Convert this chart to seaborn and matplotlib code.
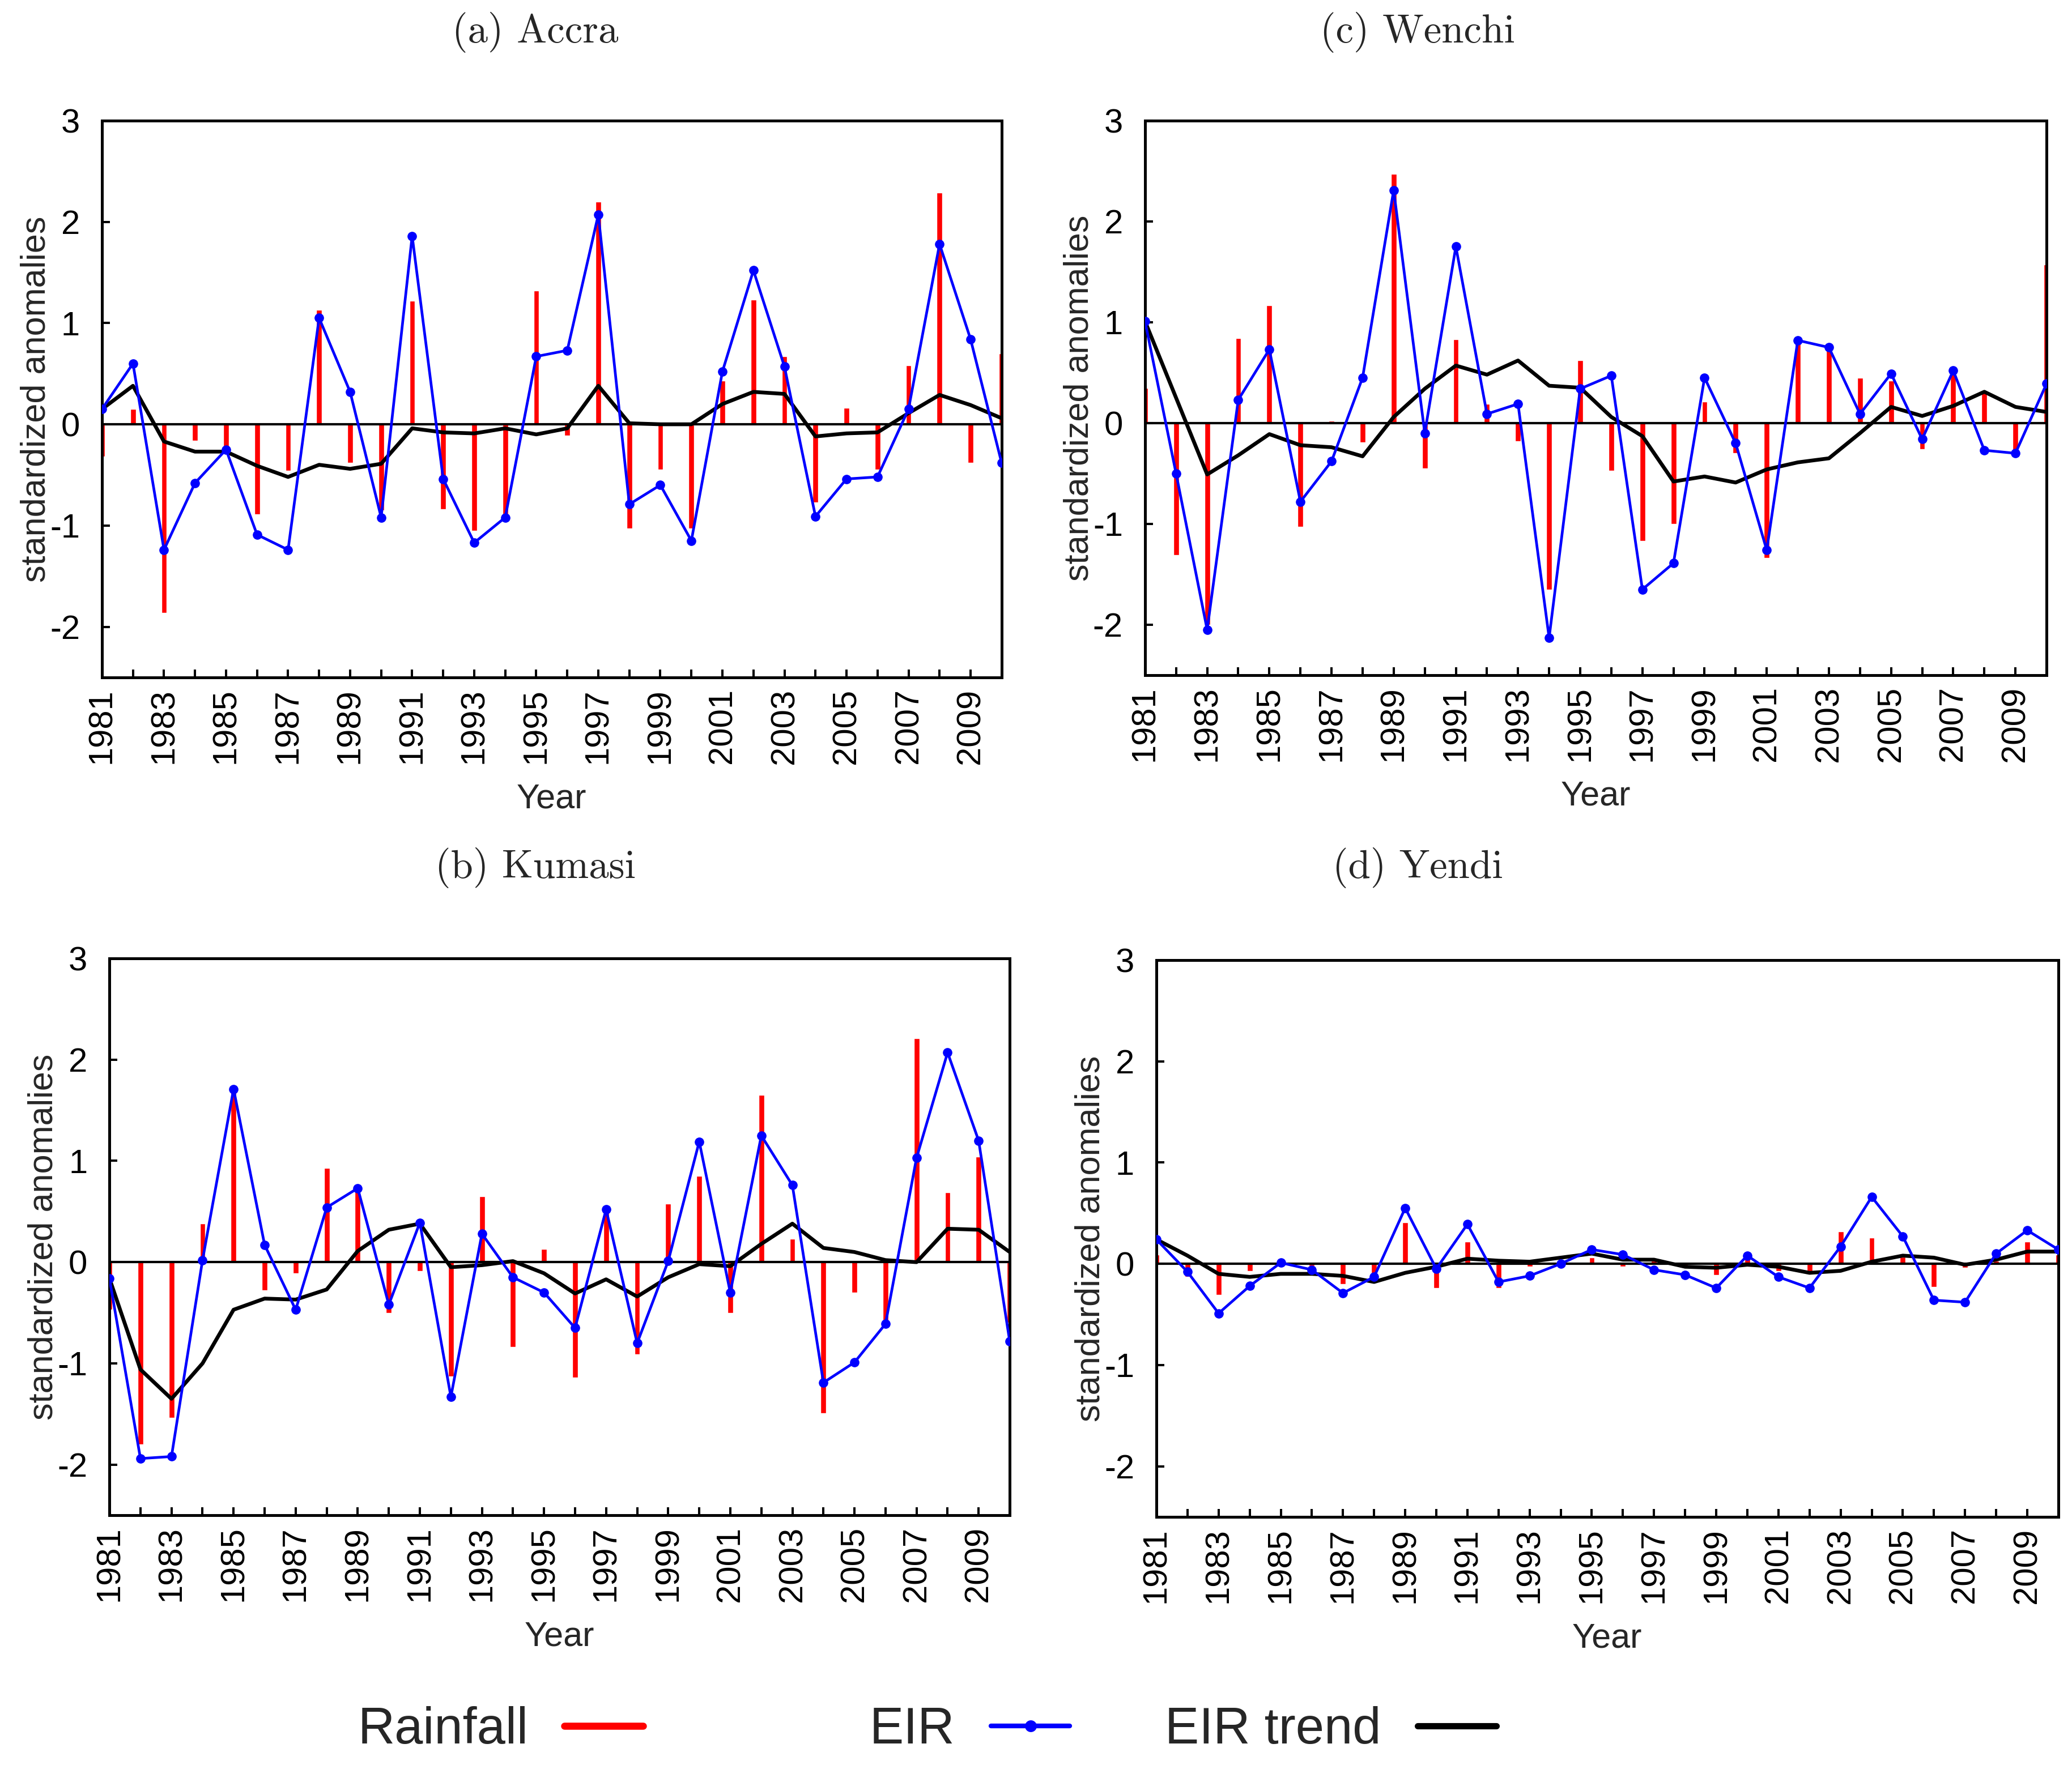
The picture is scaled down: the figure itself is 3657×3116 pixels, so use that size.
import numpy as np
import pandas as pd
import seaborn as sns
import matplotlib.pyplot as plt
from matplotlib.lines import Line2D

years = list(range(1981, 2011))

# (a) Accra
accra_rain = [-0.32, 0.15, -1.86, -0.16, -0.25, -0.89, -0.46, 1.13, -0.38, -0.85,
              1.22, -0.84, -1.05, -0.95, 1.32, -0.11, 2.20, -1.03, -0.45, -1.03,
              0.43, 1.23, 0.67, -0.77, 0.16, -0.45, 0.58, 2.29, -0.38, 0.70]
accra_eir = [0.15, 0.60, -1.24, -0.58, -0.25, -1.09, -1.24, 1.05, 0.32, -0.92,
             1.86, -0.54, -1.17, -0.92, 0.67, 0.73, 2.07, -0.79, -0.60, -1.15,
             0.52, 1.52, 0.57, -0.91, -0.54, -0.52, 0.15, 1.78, 0.84, -0.38]
accra_trend = [0.15, 0.38, -0.17, -0.27, -0.27, -0.41, -0.52, -0.40, -0.44, -0.39,
               -0.04, -0.08, -0.09, -0.04, -0.10, -0.04, 0.38, 0.01, 0.00, 0.00,
               0.20, 0.32, 0.30, -0.12, -0.09, -0.08, 0.11, 0.29, 0.19, 0.06]

# (c) Wenchi
wenchi_rain = [0.35, -1.31, -2.00, 0.84, 1.17, -1.03, 0.02, -0.19, 2.47, -0.45,
               0.83, 0.19, -0.18, -1.65, 0.62, -0.47, -1.17, -1.00, 0.21, -0.30,
               -1.34, 0.82, 0.73, 0.45, 0.42, -0.26, 0.50, 0.31, -0.27, 1.57]
wenchi_eir = [1.01, -0.50, -2.05, 0.23, 0.73, -0.78, -0.38, 0.45, 2.31, -0.10,
              1.75, 0.09, 0.19, -2.13, 0.34, 0.47, -1.65, -1.39, 0.45, -0.20,
              -1.26, 0.82, 0.75, 0.09, 0.49, -0.16, 0.52, -0.27, -0.30, 0.39]
wenchi_trend = [1.01, 0.25, -0.51, -0.32, -0.11, -0.22, -0.24, -0.33, 0.06, 0.34,
                0.57, 0.48, 0.62, 0.37, 0.35, 0.06, -0.13, -0.58, -0.53, -0.59,
                -0.46, -0.39, -0.35, -0.10, 0.16, 0.07, 0.17, 0.31, 0.16, 0.11]

# (b) Kumasi
kumasi_rain = [-0.47, -1.80, -1.54, 0.38, 1.71, -0.28, -0.11, 0.93, 0.71, -0.50,
               -0.09, -1.13, 0.65, -0.84, 0.13, -1.14, 0.50, -0.91, 0.58, 0.85,
               -0.50, 1.65, 0.23, -1.49, -0.30, -0.58, 2.21, 0.69, 1.04, -0.60]
kumasi_eir = [-0.16, -1.94, -1.92, 0.02, 1.71, 0.17, -0.47, 0.54, 0.73, -0.42,
              0.39, -1.33, 0.28, -0.15, -0.30, -0.65, 0.52, -0.80, 0.01, 1.19,
              -0.30, 1.25, 0.76, -1.19, -0.99, -0.61, 1.03, 2.07, 1.20, -0.78]
kumasi_trend = [-0.16, -1.06, -1.35, -1.00, -0.47, -0.36, -0.37, -0.27, 0.11, 0.32,
                0.38, -0.05, -0.03, 0.01, -0.11, -0.31, -0.17, -0.34, -0.15, -0.02,
                -0.04, 0.18, 0.38, 0.14, 0.10, 0.02, 0.00, 0.33, 0.32, 0.10]

# (d) Yendi
yendi_rain = [0.09, -0.13, -0.31, -0.07, 0.00, -0.02, -0.20, -0.18, 0.41, -0.24,
              0.22, -0.24, -0.03, 0.00, 0.06, -0.03, 0.03, -0.02, -0.11, 0.06,
              -0.07, -0.10, 0.32, 0.26, 0.07, -0.23, -0.04, 0.03, 0.22, 0.09]
yendi_eir = [0.24, -0.08, -0.49, -0.22, 0.01, -0.06, -0.29, -0.13, 0.55, -0.05,
             0.39, -0.18, -0.12, 0.00, 0.14, 0.09, -0.06, -0.11, -0.24, 0.08,
             -0.13, -0.24, 0.17, 0.66, 0.27, -0.36, -0.38, 0.10, 0.33, 0.14]
yendi_trend = [0.24, 0.08, -0.10, -0.13, -0.10, -0.10, -0.12, -0.18, -0.09, -0.03,
               0.05, 0.03, 0.02, 0.06, 0.10, 0.04, 0.04, -0.03, -0.04, -0.01,
               -0.03, -0.09, -0.07, 0.02, 0.08, 0.06, -0.01, 0.04, 0.12, 0.12]

sns.set_style("ticks")
plt.rcParams['font.family'] = ['Liberation Sans', 'DejaVu Sans']
plt.rcParams['axes.unicode_minus'] = False

fig = plt.figure(figsize=(36.57, 31.16), dpi=100)

panels = [
    ("(a) Accra", accra_rain, accra_eir, accra_trend,
     [0.0492, 0.6162, 0.4342, 0.3155], (0.2584, 0.9817)),
    ("(c) Wenchi", wenchi_rain, wenchi_eir, wenchi_trend,
     [0.5526, 0.6175, 0.4351, 0.3142], (0.6842, 0.9817)),
    ("(b) Kumasi", kumasi_rain, kumasi_eir, kumasi_trend,
     [0.0528, 0.1415, 0.4345, 0.3155], (0.2584, 0.5083)),
    ("(d) Yendi", yendi_rain, yendi_eir, yendi_trend,
     [0.5581, 0.1406, 0.4353, 0.3155], (0.6842, 0.5083)),
]

for title, rain, eir, trend, rect, tpos in panels:
    ax = fig.add_axes(rect)
    df = pd.DataFrame({"year": years, "rain": rain, "eir": eir, "trend": trend})

    ax.bar(df["year"], df["rain"], width=0.18, color="#ff0000", zorder=2)
    ax.axhline(0, color="black", lw=3.0, zorder=3)
    sns.lineplot(data=df, x="year", y="trend", ax=ax, color="black", lw=4.8,
                 zorder=4)
    sns.lineplot(data=df, x="year", y="eir", ax=ax, color="#0000ff", lw=3.4,
                 marker="o", markersize=12, markeredgewidth=0, zorder=5)

    ax.set_xlim(1981, 2010)
    ax.set_ylim(-2.5, 3)
    ax.set_xticks(years)
    ax.set_xticklabels([str(y) if y % 2 else "" for y in years], rotation=90)
    ax.set_yticks([-2, -1, 0, 1, 2, 3])
    ax.tick_params(axis="both", direction="in", length=10, width=2.9,
                   labelsize=43, colors="black")
    ax.tick_params(axis="x", pad=14)
    ax.tick_params(axis="y", pad=28)
    for s in ax.spines.values():
        s.set_linewidth(3.6)
        s.set_color("black")

    ax.set_xlabel("Year", fontsize=44)
    ax.set_ylabel("standardized anomalies", fontsize=44)
    ax.xaxis.set_label_coords(0.5, -0.19)
    ax.yaxis.set_label_coords(-0.055, 0.5)

    fig.text(tpos[0], tpos[1], title, fontsize=51, family="cmr10",
             ha="center", va="center")

# legend along the bottom, text placed before each sample
legend_items = [
    ("Rainfall", Line2D([], [], color="#ff0000", lw=9), 0.3104),
    ("EIR", Line2D([], [], color="#0000ff", lw=6, marker="o", markersize=15,
                   markeredgewidth=0), 0.5163),
    ("EIR trend", Line2D([], [], color="black", lw=8), 0.7222),
]
for label, handle, xr in legend_items:
    fig.legend([handle], [label], loc="center right", bbox_to_anchor=(xr, 0.0196),
               frameon=False, fontsize=65, markerfirst=False, borderpad=0,
               borderaxespad=0, handlelength=1.54, handletextpad=0.71)

fig.savefig("out.png", dpi=100)
